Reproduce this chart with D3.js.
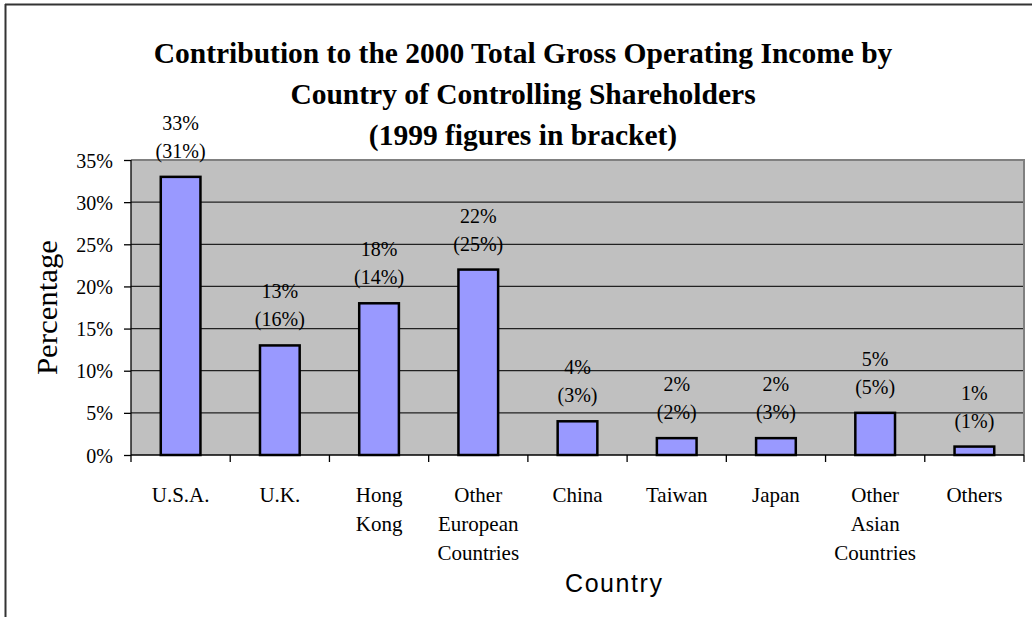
<!DOCTYPE html>
<html>
<head>
<meta charset="utf-8">
<script src="https://cdn.jsdelivr.net/npm/d3@7"></script>
<style>
  html, body { margin: 0; padding: 0; background: #fff; }
  svg { display: block; }
  .serif { font-family: "Liberation Serif", "Times New Roman", Times, serif; }
  .sans { font-family: "Liberation Sans", Arial, Helvetica, sans-serif; }
</style>
</head>
<body>
<svg id="chart" width="1032" height="617"></svg>
<script>
// ---- Data ----
const categories = ["U.S.A.", "U.K.", "Hong Kong", "Other European Countries", "China", "Taiwan", "Japan", "Other Asian Countries", "Others"];
const categoryLines = [["U.S.A."], ["U.K."], ["Hong", "Kong"], ["Other", "European", "Countries"], ["China"], ["Taiwan"], ["Japan"], ["Other", "Asian", "Countries"], ["Others"]];
const values2000 = [0.33, 0.13, 0.18, 0.22, 0.04, 0.02, 0.02, 0.05, 0.01];
const values1999 = [0.31, 0.16, 0.14, 0.25, 0.03, 0.02, 0.03, 0.05, 0.01];
const yTicks = [0, 0.05, 0.10, 0.15, 0.20, 0.25, 0.30, 0.35];
const titleLines = ["Contribution to the 2000 Total Gross Operating Income by", "Country of Controlling Shareholders", "(1999 figures in bracket)"];

// ---- Layout ----
const svg = d3.select("#chart");
const plot = { left: 131, right: 1024, top: 160, bottom: 455 };

const x = d3.scaleBand().domain(categories).range([plot.left, plot.right]).paddingInner(0.6).paddingOuter(0.3);
const xOuter = d3.scaleBand().domain(categories).range([plot.left, plot.right]);
const y = d3.scaleLinear().domain([0, 0.35]).range([plot.bottom, plot.top]);
const fmt = d3.format(".0%");

// Outer frame (top and left edges visible)
svg.append("line").attr("x1", 5).attr("x2", 1032).attr("y1", 4.5).attr("y2", 4.5)
  .attr("stroke", "#333").attr("stroke-width", 2);
svg.append("line").attr("x1", 5.5).attr("x2", 5.5).attr("y1", 4).attr("y2", 617)
  .attr("stroke", "#333").attr("stroke-width", 2);

// Plot background
svg.append("rect").attr("x", plot.left).attr("y", plot.top)
  .attr("width", plot.right - plot.left).attr("height", plot.bottom - plot.top)
  .attr("fill", "#C0C0C0");

// Gridlines
svg.append("g").selectAll("line").data(yTicks.filter(d => d > 0 && d < 0.35)).join("line")
  .attr("x1", plot.left).attr("x2", plot.right)
  .attr("y1", d => y(d)).attr("y2", d => y(d))
  .attr("stroke", "#222").attr("stroke-width", 1.3);

// Plot border (top/right gray)
svg.append("path")
  .attr("d", `M${plot.left},${plot.top}H${plot.right}V${plot.bottom}`)
  .attr("fill", "none").attr("stroke", "#808080").attr("stroke-width", 2);

// Bars
svg.append("g").selectAll("rect").data(categories).join("rect")
  .attr("x", d => x(d))
  .attr("y", (d, i) => y(values2000[i]))
  .attr("width", x.bandwidth())
  .attr("height", (d, i) => y(0) - y(values2000[i]))
  .attr("fill", "#9999FF")
  .attr("stroke", "#000").attr("stroke-width", 2.5);

// Y axis
const yAxis = d3.axisLeft(y).tickValues(yTicks).tickFormat(fmt).tickSize(7).tickPadding(11);
const gy = svg.append("g").attr("transform", `translate(${plot.left},0)`).call(yAxis);
gy.attr("font-family", null).attr("font-size", null).attr("class", "serif");
gy.select(".domain").attr("stroke", "#000").attr("stroke-width", 1.3).attr("d", `M0,${plot.top}V${plot.bottom}`);
gy.selectAll(".tick line").attr("stroke", "#000").attr("stroke-width", 1.3);
gy.selectAll(".tick text").attr("font-size", 20).attr("fill", "#000").attr("dy", "0.35em");

// X axis
const boundaries = categories.map(c => xOuter(c)).concat([plot.right]);
svg.append("line").attr("x1", plot.left).attr("x2", plot.right).attr("y1", plot.bottom).attr("y2", plot.bottom)
  .attr("stroke", "#000").attr("stroke-width", 1.5);
svg.append("g").selectAll("line").data(boundaries).join("line")
  .attr("x1", d => d).attr("x2", d => d).attr("y1", plot.bottom).attr("y2", plot.bottom + 7)
  .attr("stroke", "#000").attr("stroke-width", 1.3);

// Category labels
const catG = svg.append("g").attr("class", "serif");
categories.forEach((c, i) => {
  const t = catG.append("text")
    .attr("x", xOuter(c) + xOuter.bandwidth() / 2)
    .attr("y", 502)
    .attr("text-anchor", "middle")
    .attr("font-size", 21).attr("fill", "#000");
  categoryLines[i].forEach((ln, j) => {
    t.append("tspan").attr("x", xOuter(c) + xOuter.bandwidth() / 2).attr("dy", j === 0 ? 0 : 29).text(ln);
  });
});

// Data labels
const lblG = svg.append("g").attr("class", "serif").attr("font-size", 20).attr("fill", "#000").attr("text-anchor", "middle");
categories.forEach((c, i) => {
  const cx = x(c) + x.bandwidth() / 2;
  const top = y(values2000[i]);
  lblG.append("text").attr("x", cx).attr("y", top - 47).text(fmt(values2000[i]));
  lblG.append("text").attr("x", cx).attr("y", top - 19).text("(" + fmt(values1999[i]) + ")");
});

// Title
const title = svg.append("text").attr("class", "serif").attr("text-anchor", "middle")
  .attr("font-weight", "bold").attr("font-size", 29.5).attr("fill", "#000");
titleLines.forEach((ln, j) => {
  title.append("tspan").attr("x", 523).attr("y", 63 + j * 41).text(ln);
});

// Y axis title
svg.append("text").attr("class", "serif")
  .attr("transform", `translate(57,${(plot.top + plot.bottom) / 2}) rotate(-90)`)
  .attr("text-anchor", "middle")
  .attr("font-size", 30).attr("fill", "#000")
  .attr("textLength", 135).attr("lengthAdjust", "spacingAndGlyphs")
  .text("Percentage");

// X axis title
svg.append("text").attr("class", "sans")
  .attr("x", 565).attr("y", 592)
  .attr("font-size", 25).attr("fill", "#000")
  .attr("textLength", 97).attr("lengthAdjust", "spacing")
  .text("Country");
</script>
</body>
</html>
